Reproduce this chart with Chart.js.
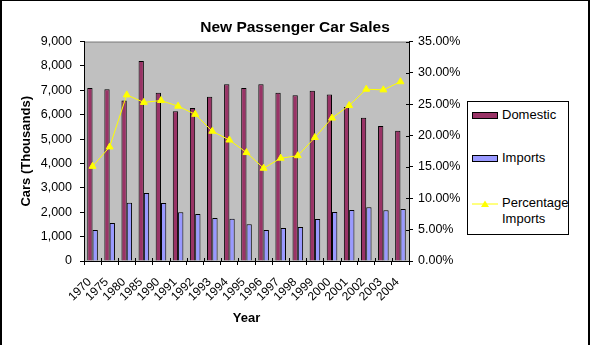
<!DOCTYPE html>
<html>
<head>
<meta charset="utf-8">
<title>New Passenger Car Sales</title>
<script src="https://cdn.jsdelivr.net/npm/chart.js@4.4.0/dist/chart.umd.min.js"></script>
<style>
  html, body { margin: 0; padding: 0; background: #fff; }
  #wrap { position: relative; width: 590px; height: 345px; }
  #frame {
    position: absolute; left: 0; top: 0; width: 590px; height: 345px;
    box-sizing: border-box; border-top: 1px solid #000;
    border-left: 2px solid #000; border-right: 2px solid #000;
    pointer-events: none;
  }
  #legend {
    position: absolute; left: 467px; top: 101px; width: 102px; height: 134px;
    box-sizing: border-box; border: 1px solid #000; background: #fff;
    font: 13px Arial, "Liberation Sans", sans-serif; color: #000;
  }
  #legend .sw { position: absolute; left: 4px; width: 26px; height: 7px; box-sizing: border-box; border: 1px solid #000; }
  #legend .txt { position: absolute; left: 34px; line-height: 16px; white-space: nowrap; }
  #legend svg { position: absolute; left: 4px; }
</style>
</head>
<body>
<div id="wrap">
  <canvas id="salesChart" width="590" height="345"></canvas>
  <div id="legend">
    <div class="sw" style="top:10px;background:#993366"></div>
    <div class="txt" style="top:5px">Domestic</div>
    <div class="sw" style="top:53px;background:#9999ff"></div>
    <div class="txt" style="top:48px">Imports</div>
    <svg width="26" height="10" style="top:97px">
      <line x1="0" y1="5" x2="26" y2="5" stroke="#ffff00" stroke-width="1"/>
      <polygon points="13,1.5 17,8 9,8" fill="#ffff00"/>
    </svg>
    <div class="txt" style="top:93px">Percentage<br>Imports</div>
  </div>
  <div id="frame"></div>
</div>
<script>
// Sales figures, thousands of cars
const years = ['1970','1975','1980','1985','1990','1991','1992','1993','1994','1995',
               '1996','1997','1998','1999','2000','2001','2002','2003','2004'];
const domestic = [7100, 7050, 6580, 8200, 6900, 6140, 6280, 6740, 7250, 7100,
                  7250, 6900, 6800, 6980, 6830, 6320, 5880, 5540, 5340];
const imports = [1270, 1560, 2390, 2790, 2380, 2000, 1930, 1760, 1730, 1510,
                 1270, 1350, 1390, 1720, 2010, 2090, 2210, 2080, 2130];
// imports as a share of all sales, in percent
const pctImports = [15.1, 18.2, 26.5, 25.3, 25.6, 24.7, 23.4, 20.7, 19.3, 17.3,
                    14.8, 16.4, 16.8, 19.7, 22.8, 24.8, 27.4, 27.3, 28.6];

// axis ranges
const carsMax = 9000, carsStep = 1000;
const pctMax = 35, pctStep = 5;

const FONT = 'Arial, "Liberation Sans", sans-serif';
Chart.defaults.font.family = FONT;
Chart.defaults.color = '#000';

// grey plot area plus the small inner halves of the axis tick marks
const plotArea = {
  id: 'plotArea',
  beforeDraw(chart) {
    const { ctx, chartArea: a } = chart;
    ctx.save();
    ctx.fillStyle = '#c0c0c0';
    ctx.fillRect(a.left, a.top, a.right - a.left, a.bottom - a.top);
    ctx.strokeStyle = '#808080';
    ctx.lineWidth = 1;
    ctx.beginPath();
    ctx.moveTo(a.left, a.top + 0.5);
    ctx.lineTo(a.right, a.top + 0.5);
    ctx.stroke();
    ctx.restore();
  },
  afterDraw(chart) {
    const { ctx, chartArea: a } = chart;
    const x = chart.scales.x, y1 = chart.scales.y1;
    const w = (x.right - x.left) / years.length;
    ctx.save();
    ctx.strokeStyle = '#000';
    ctx.lineWidth = 1;
    ctx.beginPath();
    for (let i = 0; i <= years.length; i++) {
      const px = Math.round(x.left + i * w) + 0.5;
      ctx.moveTo(px, a.bottom - 3);
      ctx.lineTo(px, a.bottom);
    }
    for (let v = 0; v <= pctMax; v += pctStep) {
      const py = Math.round(y1.getPixelForValue(v)) + 0.5;
      ctx.moveTo(a.right - 3, py);
      ctx.lineTo(a.right, py);
    }
    ctx.stroke();
    ctx.restore();
  }
};

new Chart(document.getElementById('salesChart'), {
  type: 'bar',
  data: {
    labels: years,
    datasets: [
      {
        label: 'Domestic',
        data: domestic,
        backgroundColor: '#993366',
        borderColor: '#000',
        borderWidth: 1,
        categoryPercentage: 0.62,
        barPercentage: 1,
        yAxisID: 'y',
        order: 1
      },
      {
        label: 'Imports',
        data: imports,
        backgroundColor: '#9999ff',
        borderColor: '#000',
        borderWidth: 1,
        categoryPercentage: 0.62,
        barPercentage: 1,
        yAxisID: 'y',
        order: 1
      },
      {
        type: 'line',
        label: 'Percentage Imports',
        data: pctImports,
        borderColor: '#ffff00',
        borderWidth: 1,
        pointStyle: 'triangle',
        pointRadius: 4,
        pointBackgroundColor: '#ffff00',
        pointBorderColor: '#ffff00',
        tension: 0,
        yAxisID: 'y1',
        order: 0
      }
    ]
  },
  options: {
    responsive: false,
    animation: false,
    layout: { padding: 0 },
    plugins: {
      legend: { display: false },
      tooltip: { enabled: false },
      title: {
        display: true,
        text: 'New Passenger Car Sales',
        color: '#000',
        font: { size: 15.5, weight: 'bold' },
        padding: { top: 18, bottom: 5 }
      }
    },
    scales: {
      x: {
        grid: { offset: true, drawOnChartArea: false, color: '#000', tickLength: 4 },
        border: { color: '#000' },
        ticks: { autoSkip: false, minRotation: 45, maxRotation: 45, padding: 10, labelOffset: -3, font: { size: 12 } },
        title: { display: true, text: 'Year', font: { size: 13, weight: 'bold' }, padding: { top: 0, bottom: 19 } },
        afterFit(s) { s.height = 84; }
      },
      y: {
        position: 'left',
        min: 0, max: carsMax,
        grid: { drawOnChartArea: false, color: '#000', tickLength: 4 },
        border: { color: '#000' },
        ticks: { stepSize: carsStep, padding: 8, font: { size: 12.5 },
                 callback: v => v.toLocaleString('en-US') },
        title: { display: true, text: 'Cars (Thousands)', font: { size: 13, weight: 'bold' }, padding: { top: 19, bottom: 0 } },
        afterFit(s) { s.width = 84; }
      },
      y1: {
        position: 'right',
        min: 0, max: pctMax,
        grid: { drawOnChartArea: false, color: '#000', tickLength: 4 },
        border: { color: '#000' },
        ticks: { stepSize: pctStep, padding: 5, font: { size: 12.5 },
                 callback: v => v.toFixed(2) + '%' },
        afterFit(s) { s.width = 181; }
      }
    }
  },
  plugins: [plotArea]
});
</script>
</body>
</html>
